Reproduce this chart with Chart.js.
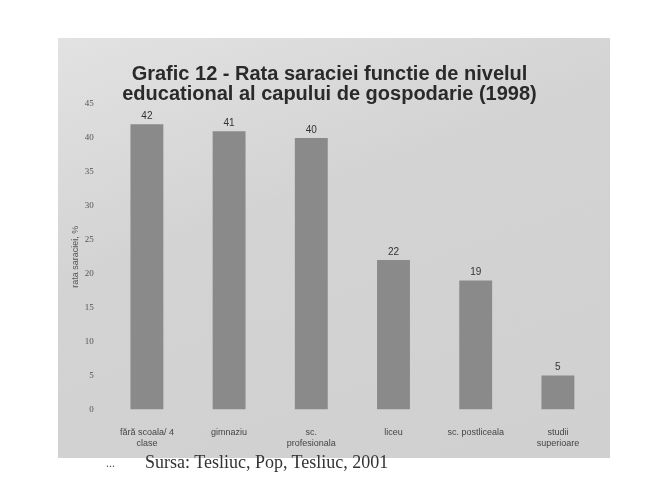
<!DOCTYPE html>
<html>
<head>
<meta charset="utf-8">
<script src="https://cdn.jsdelivr.net/npm/chart.js@4.4.0/dist/chart.umd.min.js"></script>
<style>
  body { margin: 0; background: #ffffff; }
  #wrap { position: relative; width: 669px; height: 489px; overflow: hidden; }
  #paper { position: absolute; left: 58px; top: 38px; width: 552px; height: 420px; background: linear-gradient(160deg, #e2e2e2 0%, #d3d3d3 40%, #d0d0d0 100%); }
  #chartBox { position: absolute; left: 0; top: 0; width: 669px; height: 489px; }
  #source { position: absolute; left: 145px; top: 452px; font-family: "Liberation Serif", serif; font-size: 18px; color: #333; }
  #dots { position: absolute; left: 106px; top: 456px; font-family: "Liberation Serif", serif; font-size: 12px; color: #555; }
</style>
</head>
<body>
<div id="wrap">
  <div id="paper"></div>
  <div id="chartBox"><canvas id="povertyChart" width="669" height="489"></canvas></div>
  <div id="dots">...</div>
  <div id="source">Sursa: Tesliuc, Pop, Tesliuc, 2001</div>
</div>
<script>
'use strict';

// ********************* DATA *********************

let educationLevels = [
  ['fără scoala/ 4', 'clase'],
  'gimnaziu',
  ['sc.', 'profesionala'],
  'liceu',
  'sc. postliceala',
  ['studii', 'superioare']
];
let povertyRates = [42, 41, 40, 22, 19, 5];
let yTicks = [0, 5, 10, 15, 20, 25, 30, 35, 40, 45];

// ********************* DOM REFERENCES ***********************

let ctx = document.getElementById('povertyChart');

// ******************* VALUE LABELS PLUGIN ********************

let valueLabels = {
  id: 'valueLabels',
  afterDatasetsDraw(chart) {
    let c = chart.ctx;
    let meta = chart.getDatasetMeta(0);
    c.save();
    c.font = '10px "Liberation Sans", Arial, sans-serif';
    c.fillStyle = '#333';
    c.textAlign = 'center';
    c.textBaseline = 'bottom';
    meta.data.forEach((bar, i) => {
      c.fillText(String(povertyRates[i]), bar.x, bar.y - 3);
    });
    c.restore();
  }
};

// ******************* RENDER CHART ***************************

new Chart(ctx, {
  type: 'bar',
  data: {
    labels: educationLevels,
    datasets: [{
      data: povertyRates,
      backgroundColor: '#8a8a8a',
      borderWidth: 0,
      barPercentage: 0.40,
      categoryPercentage: 1
    }]
  },
  options: {
    responsive: false,
    animation: false,
    layout: { padding: { left: 60, right: 70, top: 0, bottom: 30 } },
    plugins: {
      legend: { display: false },
      tooltip: { enabled: false },
      title: {
        display: true,
        text: ['Grafic 12 - Rata saraciei functie de nivelul', 'educational al capului de gospodarie (1998)'],
        color: '#2a2a2a',
        font: { family: '"Liberation Sans", Arial, sans-serif', size: 20, weight: 'bold', lineHeight: 1.0 },
        padding: { top: 64, bottom: 0 }
      }
    },
    scales: {
      x: {
        grid: { display: false },
        border: { display: false },
        ticks: {
          color: '#444',
          font: { family: '"Liberation Sans", Arial, sans-serif', size: 9 },
          maxRotation: 0,
          autoSkip: false,
          padding: 10
        }
      },
      y: {
        min: 0,
        max: 45,
        afterBuildTicks(axis) {
          axis.ticks = yTicks.map(v => ({ value: v }));
        },
        grid: { display: false },
        border: { display: false },
        ticks: {
          color: '#555',
          font: { family: '"Liberation Serif", serif', size: 9 },
          padding: 4
        },
        title: {
          display: true,
          text: 'rata saraciei, %',
          color: '#555',
          font: { family: '"Liberation Sans", Arial, sans-serif', size: 9 },
          padding: { top: 10, bottom: 0 }
        }
      }
    }
  },
  plugins: [valueLabels]
});
</script>
</body>
</html>
